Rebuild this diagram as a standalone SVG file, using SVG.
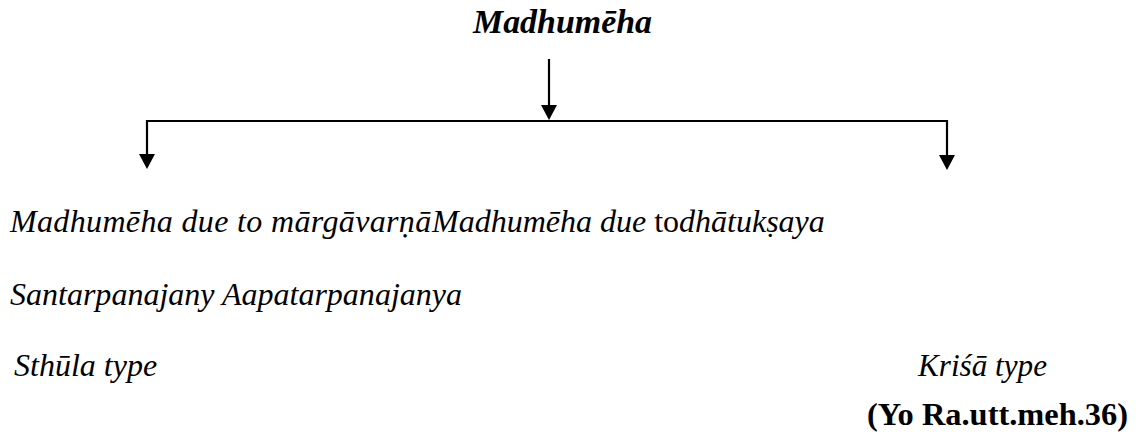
<svg xmlns="http://www.w3.org/2000/svg" width="1140" height="435" viewBox="0 0 1140 435">
  <defs>
    <marker id="arrowhead" markerUnits="userSpaceOnUse" markerWidth="16" markerHeight="16" viewBox="0 0 15 16" refX="11" refY="8" orient="auto">
      <path d="M0,0 L15,8 L0,16 z" fill="#000"/>
    </marker>
    <style>
      .body { font-family: "Liberation Serif", "Times New Roman", serif; font-style: italic; font-size: 32px; fill: #000; }
      .title { font-family: "Liberation Serif", "Times New Roman", serif; font-style: italic; font-weight: bold; font-size: 33px; fill: #000; }
      .ref { font-family: "Liberation Serif", "Times New Roman", serif; font-weight: bold; font-size: 32px; fill: #000; }
      .upright { font-style: normal; }
      .link { stroke: #000; stroke-width: 2.2; fill: none; }
      .arrow { marker-end: url(#arrowhead); }
    </style>
  </defs>

  <rect width="1140" height="435" fill="#fff"/>

  <!-- root -->
  <g id="node-madhumeha">
    <text class="title" x="473" y="33" textLength="179" lengthAdjust="spacingAndGlyphs">Madhumēha</text>
  </g>

  <!-- connectors: trunk, bar, two branches -->
  <g id="connectors">
    <line class="link arrow" x1="549" y1="59" x2="549" y2="116"/>
    <line class="link" x1="146" y1="121" x2="948" y2="121"/>
    <line class="link arrow" x1="147" y1="120" x2="147" y2="165"/>
    <line class="link arrow" x1="947" y1="120" x2="947" y2="166"/>
  </g>

  <!-- branch descriptions -->
  <g id="node-causes">
    <text class="body" x="10" y="232"><tspan letter-spacing="0.35">Madhumēha due to mārgāvarṇā</tspan><tspan x="432">Madhumēha due </tspan><tspan class="upright">to</tspan>dhātukṣaya</text>
  </g>
  <g id="node-origin">
    <text class="body" x="10" y="305" textLength="452" lengthAdjust="spacingAndGlyphs">Santarpanajany Aapatarpanajanya</text>
  </g>
  <g id="node-sthula">
    <text class="body" x="14" y="376">Sthūla type</text>
  </g>
  <g id="node-krisa">
    <text class="body" x="918" y="376" textLength="129" lengthAdjust="spacingAndGlyphs">Kriśā type</text>
  </g>
  <g id="node-reference">
    <text class="ref" x="867" y="425" textLength="261" lengthAdjust="spacingAndGlyphs">(Yo Ra.utt.meh.36)</text>
  </g>
</svg>
